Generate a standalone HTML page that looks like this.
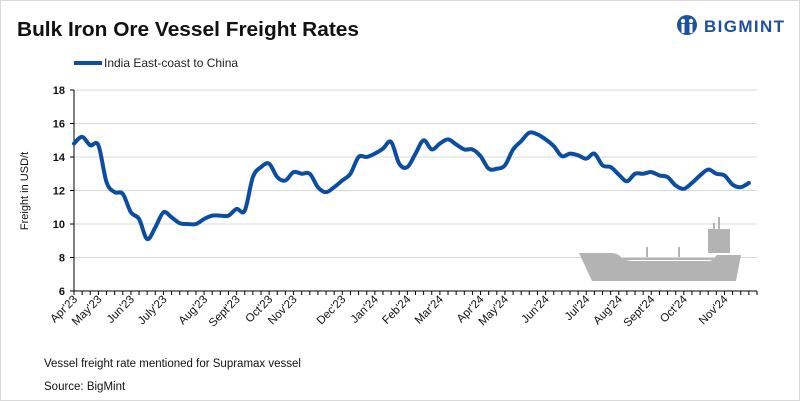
<!DOCTYPE html>
<html><head><meta charset="utf-8">
<style>
html,body{margin:0;padding:0;background:#fff;}
#wrap{position:relative;width:798px;height:399px;border:1px solid #d9d9d9;overflow:hidden;font-family:"Liberation Sans",sans-serif;}
svg{position:absolute;left:0;top:0;}
</style></head><body>
<div id="wrap">
<svg id="chart" width="800" height="401"></svg>
</div>
<script>
const months = ["Apr'23","May'23","Jun'23","July'23","Aug'23","Sept'23","Oct'23","Nov'23","Dec'23","Jan'24","Feb'24","Mar'24","Apr'24","May'24","Jun'24","Jul'24","Aug'24","Sept'24","Oct'24","Nov'24"];
const monthWeek = [0,3,7,11,16,20,24,27,33,37,41,45,50,53,58,63,67,71,75,80];
const yTicks = [6,8,10,12,14,16,18];
const freight = [14.8,15.2,14.7,14.7,12.5,11.9,11.8,10.7,10.3,9.1,9.8,10.7,10.4,10.05,10.0,10.0,10.3,10.5,10.5,10.5,10.9,10.8,12.8,13.4,13.6,12.8,12.6,13.1,13.0,13.0,12.2,11.9,12.2,12.6,13.0,14.0,14.0,14.2,14.5,14.9,13.6,13.4,14.2,15.0,14.45,14.8,15.05,14.75,14.45,14.45,14.05,13.3,13.3,13.5,14.45,14.95,15.45,15.35,15.05,14.65,14.05,14.2,14.1,13.9,14.2,13.5,13.4,12.95,12.55,13.0,13.0,13.1,12.9,12.8,12.3,12.1,12.45,12.9,13.25,13.0,12.9,12.35,12.2,12.45];

const NS="http://www.w3.org/2000/svg";
const svg=document.getElementById('chart');
function mk(tag,attrs,parent){const e=document.createElementNS(NS,tag);for(const k in attrs)e.setAttribute(k,attrs[k]);(parent||svg).appendChild(e);return e;}
const X0=73,X1=756,Y0=290,Y1=89,YMIN=6,YMAX=18;
const nTicks=84;
const step=(X1-X0)/nTicks;
const xs=i=>X0+i*step;
const ys=v=>Y0-(v-YMIN)/(YMAX-YMIN)*(Y0-Y1);

let t=mk('text',{x:16,y:35,'font-size':20,'font-weight':'bold',fill:'#111',textLength:342,lengthAdjust:'spacingAndGlyphs'});t.textContent='Bulk Iron Ore Vessel Freight Rates';

const lg=mk('g',{});

mk('circle',{cx:686,cy:24,r:10,fill:'#1b4fa8'},lg);
mk('circle',{cx:682,cy:20,r:2.2,fill:'#fff'},lg);
mk('circle',{cx:690,cy:20,r:2.2,fill:'#fff'},lg);
mk('rect',{x:680.5,y:23,width:3,height:9,fill:'#fff'},lg);
mk('rect',{x:688.5,y:23,width:3,height:9,fill:'#fff'},lg);
let lt=mk('text',{x:703,y:31,'font-size':17,'font-weight':'bold',fill:'#1b4fa8',textLength:80,lengthAdjust:'spacing'},lg);lt.textContent='BIGMINT';
const leg=mk('g',{});

mk('line',{x1:73,y1:62,x2:101,y2:62,stroke:'#0a4da2','stroke-width':4},leg);
let ltx=mk('text',{x:103,y:66,'font-size':12,fill:'#222'},leg);ltx.textContent='India East-coast to China';
yTicks.forEach(v=>{
  const y=ys(v);
  if(v>YMIN){const g=mk('line',{x1:X0,y1:y,x2:X1,y2:y,stroke:'#d9d9d9','stroke-width':1});
  }
  mk('line',{x1:X0-4,y1:y,x2:X0,y2:y,stroke:'#000'});
  const tx=mk('text',{x:X0-9,y:y+4,'font-size':11,'font-weight':'bold','text-anchor':'end',fill:'#111'});
  tx.textContent=v;
  
});
const sh=mk('g',{fill:'#b3b3b3'});

mk('path',{d:'M578,252 L610,252 Q616,252 620,256 Q624,260 632,260 L708,260 Q712,260 714,256 L716,254 L740,254 L735,280 L591,280 Z'},sh);
mk('rect',{x:707,y:228,width:22,height:24},sh);
mk('rect',{x:717,y:216,width:2,height:12},sh);
mk('rect',{x:712,y:222,width:2,height:6},sh);
mk('rect',{x:645,y:246,width:2,height:10},sh);
mk('rect',{x:677,y:246,width:2,height:10},sh);
mk('rect',{x:622,y:257,width:96,height:2},sh);
mk('line',{x1:X0,y1:Y1,x2:X0,y2:Y0,stroke:'#000'});
const xa=mk('line',{x1:X0,y1:Y0,x2:X1,y2:Y0,stroke:'#000'});

for(let i=0;i<=nTicks;i++){mk('line',{x1:xs(i),y1:Y0,x2:xs(i),y2:Y0+4,stroke:'#000'});}
months.forEach((m,k)=>{
  const x=xs(monthWeek[k])+4,y=Y0+9;
  const tx=mk('text',{x:x,y:y,'font-size':11.5,'text-anchor':'end',fill:'#111',transform:`rotate(-45 ${x} ${y})`});
  tx.textContent=m;
  
});
const yt=mk('text',{x:27,y:190,'font-size':11,'text-anchor':'middle',fill:'#111',transform:'rotate(-90 27 190)'});
yt.textContent='Freight  in USD/t';

const pts=freight.map((v,i)=>[xs(i),ys(v)]);
let d=`M${pts[0][0]},${pts[0][1]}`;
for(let i=0;i<pts.length-1;i++){
  const p0=pts[Math.max(0,i-1)],p1=pts[i],p2=pts[i+1],p3=pts[Math.min(pts.length-1,i+2)];
  const c1x=p1[0]+(p2[0]-p0[0])/6,c1y=p1[1]+(p2[1]-p0[1])/6;
  const c2x=p2[0]-(p3[0]-p1[0])/6,c2y=p2[1]-(p3[1]-p1[1])/6;
  d+=` C${c1x},${c1y} ${c2x},${c2y} ${p2[0]},${p2[1]}`;
}
const ln=mk('path',{d:d,fill:'none',stroke:'#0a4da2','stroke-width':4,'stroke-linejoin':'round','stroke-linecap':'round'});

const f1=mk('text',{x:43,y:366,'font-size':11.5,fill:'#111'});f1.textContent='Vessel freight rate mentioned for Supramax vessel';

const f2=mk('text',{x:43,y:389,'font-size':11.5,fill:'#111'});f2.textContent='Source:  BigMint';

</script>
</body></html>
